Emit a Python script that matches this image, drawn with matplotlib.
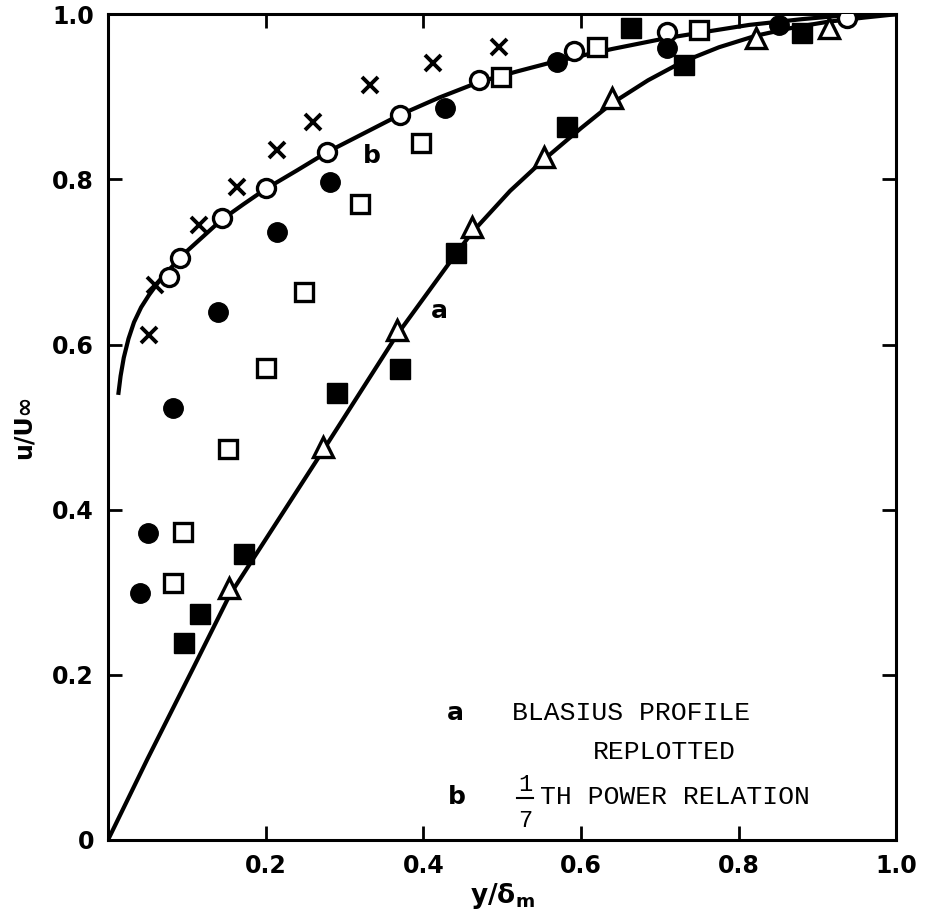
import numpy as np
import matplotlib
matplotlib.use("Agg")
import matplotlib.pyplot as plt

# data (y/delta_m, u/U_inf)
cross_x = [0.052, 0.059, 0.116, 0.163, 0.214, 0.260, 0.332, 0.412, 0.496]
cross_y = [0.611, 0.672, 0.745, 0.791, 0.835, 0.869, 0.914, 0.941, 0.960]

open_circle_x = [0.078, 0.091, 0.144, 0.201, 0.278, 0.370, 0.471, 0.591, 0.709, 0.937]
open_circle_y = [0.682, 0.705, 0.753, 0.789, 0.833, 0.878, 0.920, 0.956, 0.978, 0.996]

filled_circle_x = [0.041, 0.051, 0.082, 0.139, 0.214, 0.281, 0.427, 0.570, 0.709, 0.851]
filled_circle_y = [0.299, 0.372, 0.523, 0.639, 0.736, 0.797, 0.886, 0.942, 0.959, 0.987]

open_square_x = [0.082, 0.095, 0.152, 0.201, 0.248, 0.320, 0.397, 0.499, 0.620, 0.749]
open_square_y = [0.311, 0.373, 0.473, 0.571, 0.663, 0.770, 0.844, 0.924, 0.960, 0.981]

filled_square_x = [0.097, 0.117, 0.172, 0.290, 0.370, 0.442, 0.582, 0.663, 0.730, 0.880]
filled_square_y = [0.239, 0.274, 0.346, 0.541, 0.570, 0.711, 0.863, 0.983, 0.938, 0.977]

triangle_x = [0.154, 0.273, 0.366, 0.462, 0.553, 0.639, 0.822, 0.914]
triangle_y = [0.305, 0.476, 0.617, 0.742, 0.827, 0.898, 0.971, 0.983]

# curve a : Blasius profile replotted
curve_a_x = [0.0, 0.05, 0.108, 0.154, 0.273, 0.366, 0.443, 0.462, 0.510, 0.553,
             0.600, 0.639, 0.685, 0.728, 0.775, 0.822, 0.870, 0.914, 0.96, 1.0]
curve_a_y = [0.0, 0.098, 0.208, 0.296, 0.472, 0.611, 0.712, 0.736, 0.786, 0.824,
             0.862, 0.892, 0.920, 0.942, 0.960, 0.974, 0.984, 0.991, 0.996, 1.0]

# curve b : 1/7 th power relation
curve_b_x = [0.013, 0.016, 0.020, 0.026, 0.033, 0.042, 0.052, 0.065, 0.080, 0.100,
             0.122, 0.144, 0.172, 0.201, 0.240, 0.278, 0.325, 0.370, 0.420, 0.471,
             0.520, 0.568, 0.640, 0.708, 0.760, 0.813, 0.880, 0.939, 1.0]
curve_b_y = [0.539, 0.562, 0.584, 0.607, 0.627, 0.645, 0.660, 0.677, 0.693, 0.713,
             0.732, 0.751, 0.770, 0.789, 0.811, 0.833, 0.856, 0.878, 0.899, 0.918,
             0.931, 0.943, 0.958, 0.971, 0.979, 0.987, 0.994, 0.999, 1.0]

xticks = [0, 0.2, 0.4, 0.6, 0.8, 1.0]
xtick_labels = ["", "0.2", "0.4", "0.6", "0.8", "1.0"]
yticks = [0, 0.2, 0.4, 0.6, 0.8, 1.0]
ytick_labels = ["0", "0.2", "0.4", "0.6", "0.8", "1.0"]


fig = plt.figure(figsize=(9.27, 9.17), dpi=100)
ax = fig.add_axes([0.1165, 0.084, 0.8505, 0.9005])

ax.plot(curve_a_x, curve_a_y, color="black", lw=3, solid_capstyle="butt",
        solid_joinstyle="round", zorder=2)
ax.plot(curve_b_x, curve_b_y, color="black", lw=3, solid_capstyle="butt",
        solid_joinstyle="round", zorder=2)

ax.plot(cross_x, cross_y, ls="none", marker="x", ms=11, mew=2.8, color="black", zorder=3)
ax.plot(open_circle_x, open_circle_y, ls="none", marker="o", ms=13, mew=2.4,
        mfc="white", mec="black", zorder=3)
ax.plot(filled_circle_x, filled_circle_y, ls="none", marker="o", ms=14, mew=1,
        mfc="black", mec="black", zorder=3)
ax.plot(open_square_x, open_square_y, ls="none", marker="s", ms=13, mew=2.4,
        mfc="white", mec="black", zorder=3)
ax.plot(filled_square_x, filled_square_y, ls="none", marker="s", ms=14, mew=1,
        mfc="black", mec="black", zorder=3)
ax.plot(triangle_x, triangle_y, ls="none", marker="^", ms=14, mew=2.4,
        mfc="white", mec="black", zorder=3)

ax.set_xlim(0, 1.0)
ax.set_ylim(0, 1.0)
ax.set_xticks(xticks)
ax.set_xticklabels(xtick_labels)
ax.set_yticks(yticks)
ax.set_yticklabels(ytick_labels)
ax.tick_params(direction="in", length=10, width=2, top=True, right=True,
               labelsize=17, pad=10)
for lab in ax.get_xticklabels() + ax.get_yticklabels():
    lab.set_fontweight("bold")
for sp in ax.spines.values():
    sp.set_linewidth(2.2)

ax.set_xlabel(r"y/δ$_\mathregular{m}$", fontsize=19, fontweight="bold", labelpad=2)
ax.set_ylabel("u/U∞", fontsize=17, fontweight="bold", labelpad=12)

# curve labels
ax.text(0.42, 0.64, "a", fontsize=18, fontweight="bold", ha="center", va="center")
ax.text(0.335, 0.828, "b", fontsize=18, fontweight="bold", ha="center", va="center")

# key
mono = "Liberation Mono"
ax.text(0.44, 0.154, "a", fontsize=18, fontweight="bold", ha="center", va="center")
ax.text(0.513, 0.154, "BLASIUS PROFILE", fontsize=19, family=mono, ha="left", va="center")
ax.text(0.615, 0.107, "REPLOTTED", fontsize=19, family=mono, ha="left", va="center")
ax.text(0.443, 0.052, "b", fontsize=18, fontweight="bold", ha="center", va="center")
ax.text(0.529, 0.067, "1", fontsize=17, family=mono, ha="center", va="center")
ax.plot([0.519, 0.539], [0.051, 0.051], color="black", lw=1.5)
ax.text(0.529, 0.024, "7", fontsize=17, family=mono, ha="center", va="center")
ax.text(0.548, 0.052, "TH POWER RELATION", fontsize=19, family=mono, ha="left", va="center")

fig.savefig("out.png", dpi=100)
